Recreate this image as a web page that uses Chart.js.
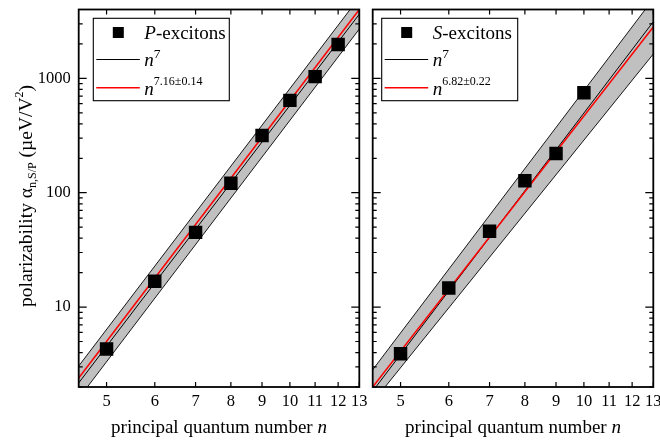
<!DOCTYPE html>
<html>
<head>
<meta charset="utf-8">
<script src="https://cdn.jsdelivr.net/npm/chart.js@4.4.0/dist/chart.umd.min.js"></script>
<style>
  html, body { margin: 0; background: #fff; overflow: hidden; width: 660px; height: 444px; position: relative; }
  canvas { position: absolute; top: 0; }
</style>
</head>
<body>
<canvas id="pChart" width="372" height="444" style="left:0"></canvas>
<canvas id="sChart" width="320" height="444" style="left:362px"></canvas>
<script>
const SERIF = '"Liberation Serif", "Times New Roman", serif';

// measured polarizabilities
const nP = [5, 6, 7, 8, 9, 10, 11, 12];
const alphaP = [4.3, 16.8, 45, 121, 317, 642, 1036, 1977];
const nS = [5, 6, 7, 8, 9, 10];
const alphaS = [3.9, 14.7, 46, 127, 220, 748];

// power-law lines, given at the ends of the n axis
const lineN = [4.5, 13];
const pPow7 = [2.17, 3640];
const pFit = [2.4, 4000];
const pBandHi = [3.05, 5100];
const pBandLo = [1.59, 2700];
const sPow7 = [1.84, 3130];
const sFit = [2.0, 2810];
const sBandHi = [2.83, 4955];
const sBandLo = [1.47, 1633];

// axes
const xTickValues = [5, 6, 7, 8, 9, 10, 11, 12, 13];
const yLabelValues = [10, 100, 1000];
const yMinorValues = [1, 10, 100, 1000]
  .flatMap((d) => [2, 3, 4, 5, 6, 7, 8, 9].map((k) => k * d))
  .filter((v) => v >= 2 && v <= 4000);

const xTitle = ['principal quantum number ', 'n'];
const legendP = { series: ['P', '-excitons'], pow: '7', fit: '7.16±0.14' };
const legendS = { series: ['S', '-excitons'], pow: '7', fit: '6.82±0.22' };

const pts = (xs, ys) => xs.map((x, i) => ({ x, y: ys[i] }));

function drawRuns(ctx, runs, x, y, center) {
  let total = 0;
  runs.forEach((r) => { ctx.font = r.font; r.w = ctx.measureText(r.t).width; total += r.w; });
  let cx = center ? x - total / 2 : x;
  runs.forEach((r) => {
    ctx.font = r.font;
    ctx.fillText(r.t, cx, y + (r.dy || 0));
    cx += r.w;
  });
}

const panelPlugin = {
  id: 'panel',
  afterDraw(chart, args, opts) {
    const { ctx, chartArea: a, scales: { x, y } } = chart;
    ctx.save();
    ctx.strokeStyle = '#000';
    ctx.fillStyle = '#000';

    // inward ticks on all four sides
    ctx.lineWidth = 1.2;
    ctx.beginPath();
    xTickValues.forEach((v) => {
      const px = x.getPixelForValue(v);
      ctx.moveTo(px, a.bottom); ctx.lineTo(px, a.bottom - 5);
      ctx.moveTo(px, a.top); ctx.lineTo(px, a.top + 5);
    });
    yMinorValues.forEach((v) => {
      const py = y.getPixelForValue(v);
      ctx.moveTo(a.left, py); ctx.lineTo(a.left + 4, py);
      ctx.moveTo(a.right, py); ctx.lineTo(a.right - 4, py);
    });
    yLabelValues.forEach((v) => {
      const py = y.getPixelForValue(v);
      ctx.moveTo(a.left, py); ctx.lineTo(a.left + 8, py);
      ctx.moveTo(a.right, py); ctx.lineTo(a.right - 8, py);
    });
    ctx.stroke();

    ctx.lineWidth = 1.8;
    ctx.strokeRect(a.left, a.top, a.right - a.left, a.bottom - a.top);

    // x title
    ctx.textBaseline = 'alphabetic';
    ctx.textAlign = 'left';
    drawRuns(ctx, [
      { t: xTitle[0], font: `19px ${SERIF}` },
      { t: xTitle[1], font: `italic 19px ${SERIF}` },
    ], (a.left + a.right) / 2, 433, true);

    // legend box
    const lx = opts.legendX;
    const lg = opts.legend;
    ctx.fillStyle = '#fff';
    ctx.fillRect(lx, 18.3, 136, 82.4);
    ctx.lineWidth = 1.1;
    ctx.strokeRect(lx, 18.3, 136, 82.4);
    ctx.fillStyle = '#000';
    ctx.fillRect(lx + 19.5, 27, 11, 11);
    drawRuns(ctx, [
      { t: lg.series[0], font: `italic 19px ${SERIF}` },
      { t: lg.series[1], font: `19px ${SERIF}` },
    ], lx + 51, 38.5, false);

    ctx.lineWidth = 1;
    ctx.beginPath();
    ctx.moveTo(lx + 3, 59.5); ctx.lineTo(lx + 46.5, 59.5);
    ctx.stroke();
    drawRuns(ctx, [
      { t: 'n', font: `italic 19px ${SERIF}` },
      { t: lg.pow, font: `13.5px ${SERIF}`, dy: -8 },
    ], lx + 51, 66, false);

    ctx.strokeStyle = '#ff0000';
    ctx.lineWidth = 1.6;
    ctx.beginPath();
    ctx.moveTo(lx + 3, 87.7); ctx.lineTo(lx + 46.5, 87.7);
    ctx.stroke();
    drawRuns(ctx, [
      { t: 'n', font: `italic 19px ${SERIF}` },
      { t: lg.fit, font: `12px ${SERIF}`, dy: -10 },
    ], lx + 51, 95, false);

    // y title, left panel only
    if (opts.yTitle) {
      ctx.translate(32, 196);
      ctx.rotate(-Math.PI / 2);
      drawRuns(ctx, [
        { t: 'polarizability ', font: `19.5px ${SERIF}` },
        { t: 'α', font: `19.5px ${SERIF}` },
        { t: 'n,S/P', font: `12px ${SERIF}`, dy: 4 },
        { t: ' (µeV/V', font: `19.5px ${SERIF}` },
        { t: '2', font: `12px ${SERIF}`, dy: -9 },
        { t: ')', font: `19.5px ${SERIF}` },
      ], 0, 0, true);
    }
    ctx.restore();
  },
};

function makePanel(id, data, lines, opts) {
  const ctx = document.getElementById(id).getContext('2d');
  const line = (ys, color, width, extra) => ({
    data: pts(lineN, ys),
    borderColor: color,
    borderWidth: width,
    pointRadius: 0,
    fill: false,
    ...extra,
  });
  return new Chart(ctx, {
    type: 'line',
    data: {
      datasets: [
        {
          data,
          showLine: false,
          pointStyle: 'rect',
          pointRadius: 9.5,
          pointBackgroundColor: '#000',
          pointBorderWidth: 0,
        },
        line(lines.fit, '#ff0000', 1.5),
        line(lines.pow7, '#000', 1),
        line(lines.hi, '#000', 0.9, { fill: '+1', backgroundColor: '#c0c0c0' }),
        line(lines.lo, '#000', 0.9),
      ],
    },
    options: {
      responsive: false,
      animation: false,
      devicePixelRatio: 1,
      events: [],
      layout: { padding: { top: 5, left: 0, right: opts.padRight, bottom: 0 } },
      plugins: {
        legend: { display: false },
        tooltip: { enabled: false },
        filler: { drawTime: 'beforeDatasetsDraw' },
        panel: opts,
      },
      scales: {
        x: {
          type: 'logarithmic',
          min: 4.5,
          max: 13,
          grid: { display: false, drawTicks: false },
          border: { display: false },
          afterBuildTicks: (s) => { s.ticks = xTickValues.map((value) => ({ value })); },
          afterFit: (s) => {
            s.height = 57;
            s.paddingLeft = 0;
            s.paddingRight = 0;
          },
          ticks: {
            autoSkip: false,
            maxRotation: 0,
            padding: 5,
            color: '#000',
            font: { family: SERIF, size: 16.5 },
            callback: (v) => String(v),
          },
        },
        y: {
          type: 'logarithmic',
          min: 2,
          max: 4000,
          grid: { display: false, drawTicks: false },
          border: { display: false },
          afterBuildTicks: (s) => { s.ticks = yLabelValues.map((value) => ({ value })); },
          afterFit: (s) => {
            s.width = opts.axisWidth;
            s.paddingTop = 0;
            s.paddingBottom = 0;
          },
          ticks: {
            display: opts.yTitle,
            padding: 8,
            color: '#000',
            font: { family: SERIF, size: 16.5 },
            callback: (v) => String(v),
          },
        },
      },
    },
    plugins: [panelPlugin],
  });
}

makePanel('pChart', pts(nP, alphaP),
  { fit: pFit, pow7: pPow7, hi: pBandHi, lo: pBandLo },
  { axisWidth: 78.7, padRight: 12.7, legendX: 93.3, legend: legendP, yTitle: true });

makePanel('sChart', pts(nS, alphaS),
  { fit: sFit, pow7: sPow7, hi: sBandHi, lo: sBandLo },
  { axisWidth: 10.7, padRight: 28.7, legendX: 19.7, legend: legendS, yTitle: false });
</script>
</body>
</html>
